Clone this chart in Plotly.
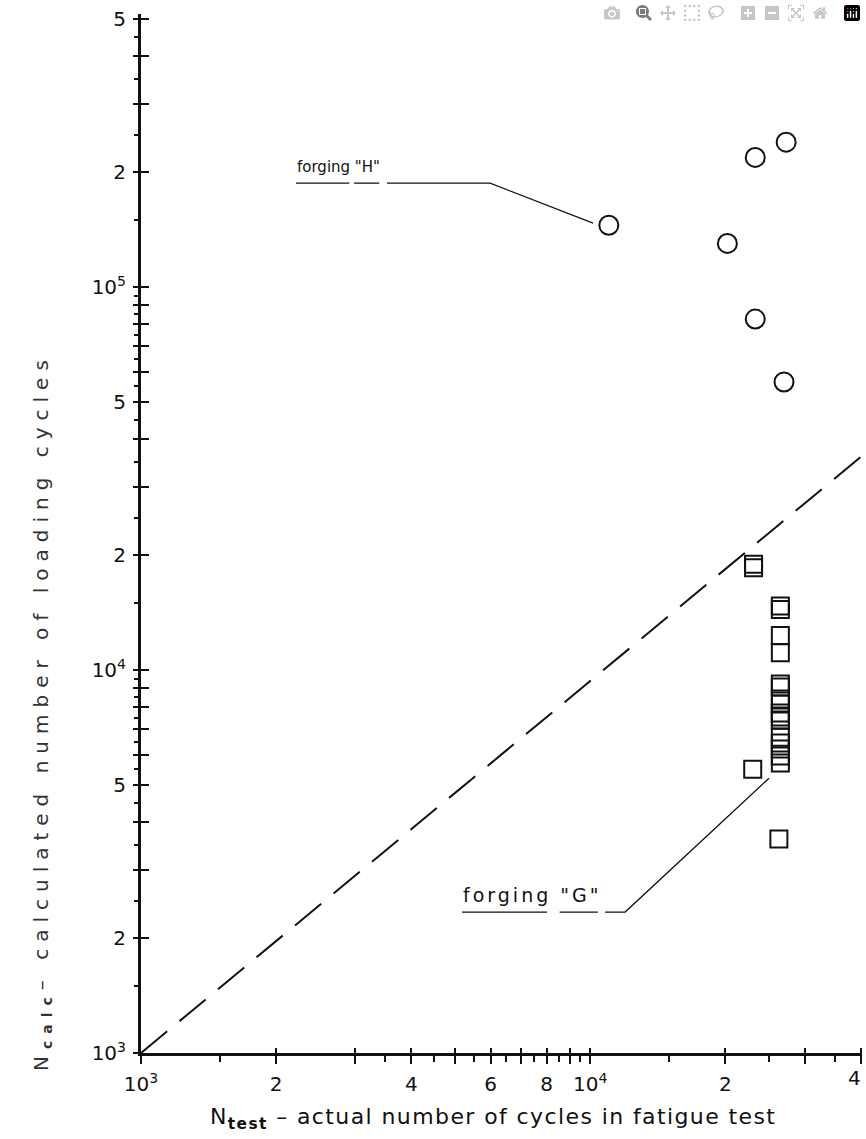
import math
import plotly.graph_objects as go

# ---------------- data ----------------
# forging "H" (circles)
h_x = [1.10e4, 2.33e4, 2.73e4, 2.02e4, 2.33e4, 2.70e4]
h_y = [1.45e5, 2.18e5, 2.39e5, 1.30e5, 8.25e4, 5.65e4]

# forging "G" (squares)
g_x = [2.31e4, 2.31e4, 2.30e4,
       2.65e4, 2.65e4, 2.65e4, 2.65e4, 2.65e4, 2.65e4, 2.65e4, 2.65e4,
       2.65e4, 2.65e4, 2.65e4, 2.65e4, 2.65e4, 2.65e4, 2.65e4, 2.65e4, 2.63e4]
g_y = [1.89e4, 1.85e4, 5.51e3,
       1.47e4, 1.44e4, 1.23e4, 1.11e4, 9.19e3, 9.03e3, 8.40e3, 8.15e3,
       7.72e3, 7.54e3, 7.40e3, 6.68e3, 6.45e3, 6.22e3, 5.96e3, 5.72e3, 3.62e3]

# reference (dashed) line
ref_x = [1e3, 4e4]
ref_y = [1e3, 3.6e4]

# underlines + leader lines of the two labels (None = gap)
h_lead_x = [2.213e3, 2.910e3, None, 2.982e3, 3.391e3, None, 3.529e3, 5.984e3, 1.0144e4]
h_lead_y = [1.868e5, 1.868e5, None, 1.868e5, 1.868e5, None, 1.868e5, 1.868e5, 1.469e5]
g_lead_x = [5.184e3, 8.013e3, None, 8.55e3, 1.040e4, None, 1.079e4, 1.196e4, 2.50e4]
g_lead_y = [2.334e3, 2.334e3, None, 2.334e3, 2.334e3, None, 2.334e3, 2.334e3, 5.22e3]

# ticks
x_major = [1e3, 2e3, 3e3, 4e3, 5e3, 6e3, 7e3, 8e3, 9e3, 1e4, 2e4, 3e4, 4e4]
x_major_text = ["10<sup>3</sup>", "2", "", "4", "", "6", "", "8", "", "10<sup>4</sup>", "2", "", ""]
x_edge_value, x_edge_text = 4e4, "4"     # last label, drawn just inside the page edge
x_minor = [1.5e3, 3.5e3, 4.5e3, 5.5e3, 6.5e3, 7.5e3, 8.5e3, 9.5e3, 1.5e4, 2.5e4, 3.5e4]

y_major = [1e3, 2e3, 3e3, 4e3, 5e3, 6e3, 7e3, 8e3, 9e3,
           1e4, 2e4, 3e4, 4e4, 5e4, 6e4, 7e4, 8e4, 9e4,
           1e5, 2e5, 3e5, 4e5, 5e5]
y_major_text = ["10<sup>3</sup>", "2", "", "", "5", "", "", "", "",
                "10<sup>4</sup>", "2", "", "", "5", "", "", "", "",
                "10<sup>5</sup>", "2", "", "", "5"]
y_minor = [1.5e3, 2.5e3, 3.5e3, 4.5e3, 5.5e3, 6.5e3, 7.5e3, 8.5e3, 9.5e3,
           1.5e4, 2.5e4, 3.5e4, 4.5e4, 5.5e4, 6.5e4, 7.5e4, 8.5e4, 9.5e4,
           1.5e5, 2.5e5, 3.5e5, 4.5e5]

# ---------------- layout geometry ----------------
W, H = 866, 1139
L, R, T, B = 141, 4, 14, 86
PW, PH = W - L - R, H - T - B
X_RANGE = [3, 4.605]
Y_RANGE = [3, 5.713]
FONT = "DejaVu Sans"
INK = "#111111"


def px2paper(xp, yp):
    return (xp - L) / PW, (H - B - yp) / PH


def spaced(txt, px):
    return f'<span style="letter-spacing:{px}px">{txt}</span>'


fig = go.Figure()

fig.add_trace(go.Scatter(x=ref_x, y=ref_y, mode="lines",
                         line=dict(color=INK, width=2, dash="34px,16px"),
                         hoverinfo="skip", showlegend=False))
fig.add_trace(go.Scatter(x=h_lead_x, y=h_lead_y, mode="lines", connectgaps=False,
                         line=dict(color=INK, width=1.3),
                         hoverinfo="skip", showlegend=False))
fig.add_trace(go.Scatter(x=g_lead_x, y=g_lead_y, mode="lines", connectgaps=False,
                         line=dict(color=INK, width=1.3),
                         hoverinfo="skip", showlegend=False))
fig.add_trace(go.Scatter(x=h_x, y=h_y, mode="markers", name='forging "H"',
                         marker=dict(symbol="circle-open", size=19, color=INK,
                                     line=dict(width=2, color=INK)),
                         showlegend=False))
fig.add_trace(go.Scatter(x=g_x, y=g_y, mode="markers", name='forging "G"',
                         marker=dict(symbol="square-open", size=17, color=INK,
                                     line=dict(width=2, color=INK)),
                         showlegend=False))
# invisible trace to carry the overlay axes (tick crosses)
fig.add_trace(go.Scatter(x=h_x, y=h_y, xaxis="x2", yaxis="y2", mode="markers",
                         marker=dict(opacity=0), hoverinfo="skip", showlegend=False))

tickfont = dict(family=FONT, size=20, color=INK)

fig.update_layout(
    width=W, height=H, autosize=False,
    margin=dict(l=L, r=R, t=T, b=B, autoexpand=False),
    paper_bgcolor="white", plot_bgcolor="white",
    showlegend=False,
    xaxis=dict(type="log", range=X_RANGE, showgrid=False, zeroline=False, automargin=False,
               showline=True, linecolor=INK, linewidth=3,
               ticks="outside", ticklen=8, tickwidth=2, tickcolor=INK,
               tickmode="array", tickvals=x_major, ticktext=x_major_text,
               tickfont=tickfont, ticklabelstandoff=3,
               minor=dict(tickmode="array", tickvals=x_minor, ticks="outside",
                          ticklen=6, tickwidth=2, tickcolor=INK)),
    yaxis=dict(type="log", range=Y_RANGE, showgrid=False, zeroline=False, automargin=False,
               showline=True, linecolor=INK, linewidth=3,
               ticks="outside", ticklen=5, tickwidth=2, tickcolor=INK,
               tickmode="array", tickvals=y_major, ticktext=y_major_text,
               tickfont=tickfont, ticklabelstandoff=3, ticklabeloverflow="allow",
               minor=dict(tickmode="array", tickvals=y_minor, ticks="outside",
                          ticklen=4, tickwidth=2, tickcolor=INK)),
    xaxis2=dict(type="log", range=X_RANGE, overlaying="x", anchor="y", side="bottom",
                showgrid=False, zeroline=False, showline=False, automargin=False,
                ticks="inside", ticklen=5, tickwidth=2, tickcolor=INK,
                tickmode="array", tickvals=x_major, showticklabels=False),
    yaxis2=dict(type="log", range=Y_RANGE, overlaying="y", anchor="x", side="left",
                showgrid=False, zeroline=False, showline=False, automargin=False,
                ticks="inside", ticklen=8, tickwidth=2, tickcolor=INK,
                tickmode="array", tickvals=y_major, showticklabels=False),
)

# last x tick label (at the 4e4 tick), kept just inside the page edge
edge_frac = (math.log10(x_edge_value) - X_RANGE[0]) / (X_RANGE[1] - X_RANGE[0])
fig.add_annotation(text=x_edge_text, x=edge_frac, xref="paper",
                   y=0, yref="paper", yshift=-12, xshift=1,
                   xanchor="right", yanchor="top", showarrow=False,
                   borderpad=0, font=tickfont)

# axis titles
xt, yt = px2paper(493, 1118)
fig.add_annotation(text=spaced("N<sub><b>test</b></sub> – actual number of cycles in fatigue test", 1.4),
                   xref="paper", yref="paper", x=xt, y=yt, showarrow=False,
                   xanchor="center", yanchor="middle",
                   font=dict(family=FONT, size=22, color=INK))
xt, yt = px2paper(42, 712)
fig.add_annotation(text=spaced("N<sub><b>calc</b></sub>– calculated number of loading cycles", 7),
                   xref="paper", yref="paper", x=xt, y=yt, showarrow=False,
                   textangle=-90, xanchor="center", yanchor="middle",
                   font=dict(family=FONT, size=20, color="#333333"))

# labels of the two forgings (underlines are drawn with the leader traces)
xt, yt = px2paper(296, 177)
fig.add_annotation(text='forging "H"', xref="paper", yref="paper",
                   x=xt, y=yt, showarrow=False, xanchor="left", yanchor="bottom",
                   borderpad=0, font=dict(family=FONT, size=15, color=INK))
xt, yt = px2paper(462, 907)
fig.add_annotation(text=spaced('forging "G"', 3), xref="paper", yref="paper",
                   x=xt, y=yt, showarrow=False, xanchor="left", yanchor="bottom",
                   borderpad=0, font=dict(family=FONT, size=19, color=INK))

# remove the page's default body margin so the 866x1139 figure fills the window exactly
fig.write_html("out.html",
               post_script="document.body.style.margin='0';document.body.style.overflow='hidden';")
